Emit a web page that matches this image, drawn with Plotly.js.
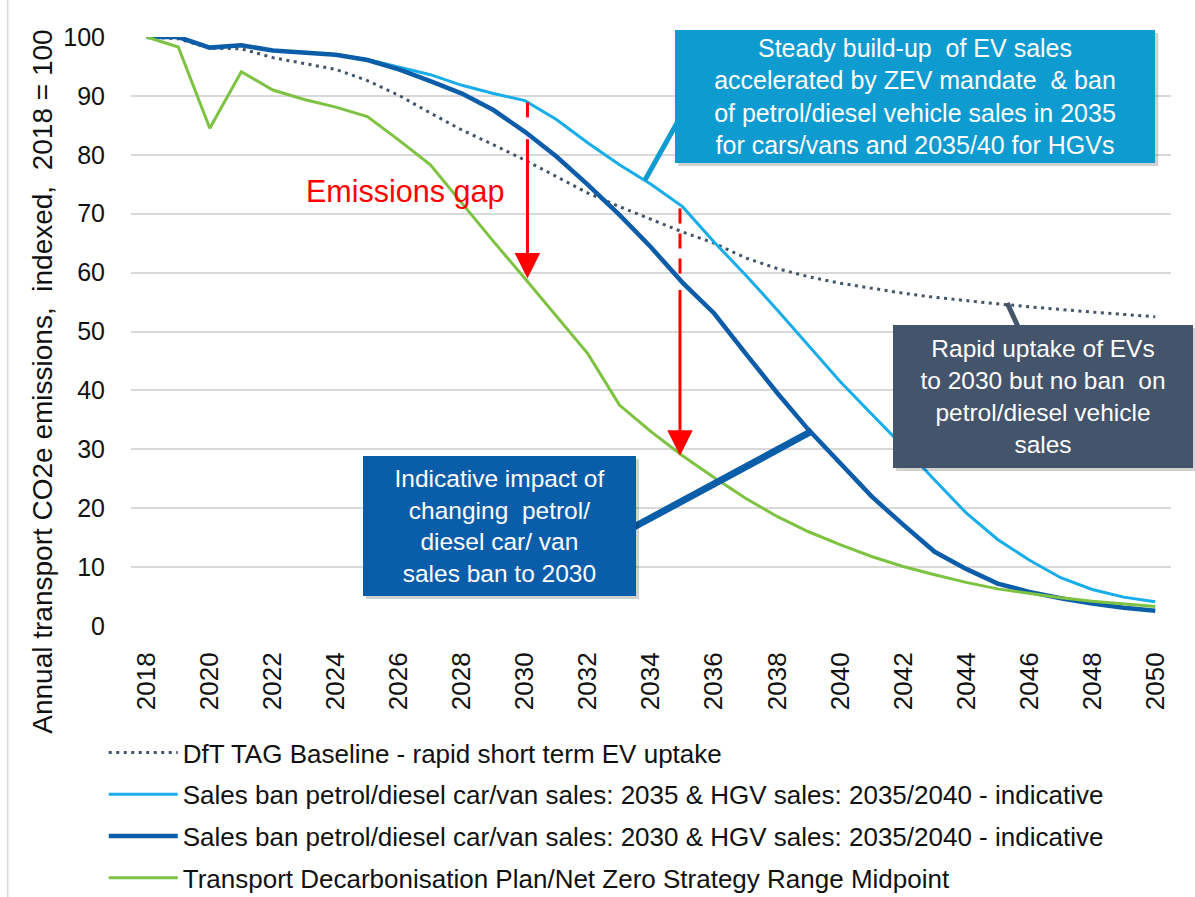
<!DOCTYPE html>
<html><head><meta charset="utf-8">
<script src="https://cdn.plot.ly/plotly-3.0.1.min.js"></script>
<style>html,body{margin:0;padding:0;background:#fff}#chart{width:1195px;height:897px}</style>
</head><body><div id="chart"></div>
<script>
// ---- data ----
const years = [2018,2019,2020,2021,2022,2023,2024,2025,2026,2027,2028,2029,2030,2031,2032,2033,2034,2035,2036,2037,2038,2039,2040,2041,2042,2043,2044,2045,2046,2047,2048,2049,2050];
const tickYears = [2018,2020,2022,2024,2026,2028,2030,2032,2034,2036,2038,2040,2042,2044,2046,2048,2050];
const baseline = [100,99.7,98.1,98.0,96.5,95.5,94.5,92.6,90.1,87.1,84.2,81.7,79.1,76.3,73.5,71.2,69.1,66.9,65.0,62.5,60.7,59.3,58.2,57.3,56.5,55.8,55.2,54.7,54.2,53.7,53.3,52.9,52.5];
const ban2035 = [100,100,98.2,98.6,97.7,97.3,97.0,96.2,94.9,93.6,91.8,90.4,89.2,86.0,82.0,78.3,75.0,71.2,65.2,59.6,53.7,47.6,41.5,36.0,30.5,24.8,19.2,14.7,11.2,8.2,6.2,4.9,4.1];
const ban2030 = [100,100,98.2,98.6,97.7,97.3,97.0,96.1,94.5,92.5,90.4,87.6,83.9,79.7,74.9,69.8,64.3,58.3,53.1,46.3,39.6,33.3,27.6,22.0,17.2,12.6,9.7,7.2,5.8,4.7,3.8,3.1,2.6];
const tdp = [100,98.3,84.5,94.1,91.0,89.4,88.1,86.5,82.5,78.3,71.8,65.3,59.0,52.6,46.2,37.5,33.0,28.9,25.2,21.7,18.6,16.0,13.8,11.8,10.1,8.7,7.4,6.3,5.5,4.8,4.2,3.7,3.3];
const seriesNames = [
  'DfT TAG Baseline - rapid short term EV uptake',
  'Sales ban petrol/diesel car/van sales: 2035 & HGV sales: 2035/2040 - indicative',
  'Sales ban petrol/diesel car/van sales: 2030 & HGV sales: 2035/2040 - indicative',
  'Transport Decarbonisation Plan/Net Zero Strategy Range Midpoint'
];
const gapYears = [2030, 2035];

// ---- layout helpers (pixel -> paper) ----
const W = 1195, H = 897, ML = 131.25, MR = 24.25, MT = 37, MB = 271;
const PW = W - ML - MR, PH = H - MT - MB;
const fx = px => (px - ML) / PW;
const fy = py => (H - MB - py) / PH;
const FONT = 'Arial, "Liberation Sans", sans-serif';

const C_DOT = '#44546A', C_LB = '#17ACEA', C_DB = '#0C5DA9', C_GR = '#7DC241';
const BOX_LB = '#0E9BD0', BOX_SL = '#44546A', BOX_DB = '#0A5EA9';

const traces = [
  {x: years, y: baseline, name: seriesNames[0], mode: 'lines', legendgroup: 'a',
   line: {color: C_DOT, width: 3, dash: '3px,4.5px'}},
  {x: years, y: ban2035, name: seriesNames[1], mode: 'lines', legendgroup: 'b',
   line: {color: C_LB, width: 3}},
  {x: years, y: ban2030, name: seriesNames[2], mode: 'lines', legendgroup: 'c',
   line: {color: C_DB, width: 4.5}},
  {x: years, y: tdp, name: seriesNames[3], mode: 'lines', legendgroup: 'd',
   line: {color: C_GR, width: 3}}
];

const shapes = [];
const annotations = [];

// left frame line
shapes.push({type: 'line', xref: 'paper', yref: 'paper', x0: fx(8), x1: fx(8), y0: fy(0), y1: fy(897),
  line: {color: '#D9D9D9', width: 1.5}, layer: 'below'});

// red gap arrows derived from the series
gapYears.forEach((yr, k) => {
  const i = years.indexOf(yr);
  const xo = yr + (k === 0 ? 0.08 : -0.08);
  shapes.push({type: 'line', xref: 'x', yref: 'y', x0: xo, x1: xo, y0: ban2035[i] - 0.3, y1: ban2030[i] + 1.2,
    line: {color: '#FF0000', width: 3, dash: '15px,10px'}, layer: 'above'});
  annotations.push({x: xo, y: tdp[i], ax: xo, ay: ban2030[i] - 1.0, xref: 'x', yref: 'y', axref: 'x', ayref: 'y',
    text: '', showarrow: true, arrowhead: 2, arrowsize: 1.7, arrowwidth: 3, arrowcolor: '#FF0000'});
});

// pointer lines
shapes.push({type: 'line', xref: 'paper', yref: 'paper', x0: fx(677), y0: fy(123), x1: fx(645), y1: fy(180),
  line: {color: BOX_LB, width: 5}, layer: 'above'});
shapes.push({type: 'line', xref: 'paper', yref: 'paper', x0: fx(1007), y0: fy(303), x1: fx(1018), y1: fy(327),
  line: {color: BOX_SL, width: 5}, layer: 'above'});
shapes.push({type: 'line', xref: 'paper', yref: 'paper', x0: fx(634), y0: fy(527), x1: fx(812), y1: fy(431),
  line: {color: BOX_DB, width: 7}, layer: 'above'});

// callout boxes
function box(x0, y0, x1, y1, color, text, fs) {
  shapes.push({type: 'rect', xref: 'paper', yref: 'paper', x0: fx(x0 + 3), x1: fx(x1 + 3), y0: fy(y0 + 3), y1: fy(y1 + 3),
    fillcolor: 'rgba(0,0,0,0.18)', line: {width: 0}, layer: 'above'});
  annotations.push({xref: 'paper', yref: 'paper', x: fx(x0), y: fy(y0), xanchor: 'left', yanchor: 'top',
    width: x1 - x0, height: y1 - y0, bgcolor: color, borderpad: 0, borderwidth: 0, showarrow: false,
    align: 'center', valign: 'middle', text: text, font: {family: FONT, size: fs, color: '#FFFFFF'}});
}
box(675, 30, 1155, 163, BOX_LB,
  'Steady build-up&nbsp; of EV sales<br>accelerated by ZEV mandate&nbsp; & ban<br>of petrol/diesel vehicle sales in 2035<br>for cars/vans and 2035/40 for HGVs', 25);
box(893, 325, 1193, 468, BOX_SL,
  'Rapid uptake of EVs<br>to 2030 but no ban&nbsp; on<br>petrol/diesel vehicle<br>sales', 24.5);
box(363, 456, 636, 596, BOX_DB,
  'Indicative impact of<br>changing&nbsp; petrol/<br>diesel car/ van<br>sales ban to 2030', 24.5);

// Emissions gap label
annotations.push({xref: 'paper', yref: 'paper', x: fx(304), y: fy(191), xanchor: 'left', yanchor: 'middle',
  showarrow: false, text: 'Emissions gap', font: {family: FONT, size: 30.5, color: '#FF0000'}});

// y axis title
annotations.push({xref: 'paper', yref: 'paper', x: fx(42), y: fy(382), xanchor: 'center', yanchor: 'middle',
  showarrow: false, textangle: -90, text: 'Annual transport CO2e emissions,&nbsp; indexed,&nbsp; 2018 = 100',
  font: {family: FONT, size: 28, color: '#111'}});

const layout = {
  width: W, height: H,
  margin: {l: ML, r: MR, t: MT, b: MB, pad: 0, autoexpand: false},
  paper_bgcolor: '#FFFFFF', plot_bgcolor: '#FFFFFF',
  font: {family: FONT, color: '#111'},
  showlegend: true,
  legend: {x: fx(104), y: fy(729), xanchor: 'left', yanchor: 'top', orientation: 'v',
    font: {family: FONT, size: 26, color: '#111'}, tracegroupgap: 5, itemwidth: 69,
    bgcolor: 'rgba(0,0,0,0)'},
  xaxis: {range: [2017.5, 2050.5], tickmode: 'array', tickvals: tickYears, ticktext: tickYears.map(String),
    tickangle: -90, showgrid: false, zeroline: false, showline: false, automargin: false,
    ticks: 'outside', ticklen: 15, tickcolor: 'rgba(0,0,0,0)',
    tickfont: {family: FONT, size: 26, color: '#111'}, fixedrange: true},
  yaxis: {range: [0, 100], dtick: 10, tick0: 0, showgrid: true, gridcolor: '#D9D9D9', gridwidth: 2,
    zeroline: false, showline: false, ticks: 'outside', ticklen: 20, tickcolor: 'rgba(0,0,0,0)', automargin: false,
    tickfont: {family: FONT, size: 25, color: '#111'}, fixedrange: true},
  shapes: shapes,
  annotations: annotations
};

Plotly.newPlot('chart', traces, layout, {displayModeBar: false, staticPlot: true});
</script>
</body></html>
